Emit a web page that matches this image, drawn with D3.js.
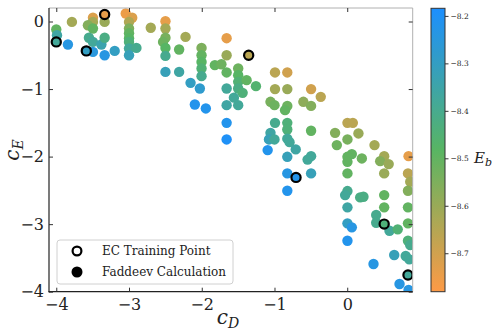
<!DOCTYPE html>
<html><head><meta charset="utf-8">
<script src="https://cdn.jsdelivr.net/npm/d3@7"></script>
<style>
body{margin:0;background:#fff}
</style>
</head><body>
<svg id="chart" width="492" height="334"></svg>
<script>
// Faddeev calculation points
const cD = [
 -4.00,-3.99,-3.84,-3.785,-3.496,-3.496,-3.565,-3.496,-3.335,-3.551,-3.496,-3.380,-3.335,-3.496,-3.335,-3.197,
 -3.045,-2.956,-3.000,-3.000,-3.000,-3.000,-3.000,-3.000,-3.000,-2.898,-2.701,
 -2.499,-2.499,-2.499,-2.532,-2.499,-2.499,-2.311,-2.223,-2.499,-2.311,-2.154,-2.026,-2.095,-1.944,
 -2.003,-2.003,-2.003,-2.003,-2.003,-1.820,-1.730,
 -1.658,-1.658,-1.658,-1.658,-1.658,-1.658,-1.658,
 -1.499,-1.499,-1.499,-1.499,-1.438,-1.558,-1.499,-1.383,-1.255,
 -0.993,-0.824,-0.993,-0.824,-1.055,-1.000,-0.824,-0.855,-0.993,-0.824,-0.824,-1.055,-1.076,-1.000,-1.094,-0.824,-0.793,-0.708,-0.824,-0.824,-0.824,
 -0.497,-0.364,-0.603,-0.497,-0.497,-0.497,-0.545,-0.497,
 0.003,0.077,0.154,-0.167,0.003,-0.143,0.063,0.003,0.201,0.003,0.003,0.003,-0.029,0.178,0.223,0.003,0.003,0.063,0.003,
 0.375,0.508,0.453,0.570,0.508,0.508,0.508,0.398,0.398,0.581,0.694,0.646,0.361,0.719,
 0.843,0.835,0.866,0.835,0.835,0.835,0.835,0.866,0.804,0.853,0.843
];
const cE = [
 -0.118,-0.203,-0.340,-0.006,0.056,-0.006,-0.055,-0.104,-0.006,-0.240,-0.302,-0.340,-0.240,-0.450,-0.499,-0.435,
 0.118,0.056,-0.006,-0.104,-0.173,-0.247,-0.302,-0.399,-0.499,-0.391,-0.092,
 0.004,-0.104,-0.240,-0.302,-0.391,-0.509,-0.414,-0.228,-0.746,-0.746,-0.908,-0.991,-1.228,-1.287,
 -0.391,-0.499,-0.598,-0.695,-0.809,-0.646,-0.632,
 -0.247,-0.499,-0.754,-0.991,-1.238,-1.500,-1.746,
 -0.695,-0.794,-0.893,-0.991,-1.056,-1.127,-1.238,-0.868,-0.957,
 -0.754,-0.754,-1.001,-1.001,-1.189,-1.238,-1.249,-1.312,-1.500,-1.500,-1.598,-1.648,-1.746,-1.746,-1.904,-1.734,-1.786,-1.893,-2.003,-2.249,-2.506,
 -1.001,-1.115,-1.189,-1.249,-1.618,-1.993,-2.044,-2.249,
 -1.500,-1.500,-1.657,-1.648,-1.746,-1.830,-1.963,-2.003,-2.027,-2.077,-2.249,-2.510,-2.570,-2.604,-2.595,-2.751,-2.988,-3.047,-3.246,
 -1.830,-1.993,-2.067,-2.111,-2.249,-2.570,-2.751,-2.865,-2.979,-3.098,-3.077,-3.457,-3.590,-3.886,
 -1.993,-2.249,-2.373,-2.506,-2.751,-2.988,-3.246,-3.309,-3.472,-3.521,-3.975
];
const Eb = [
 -8.50,-8.36,-8.24,-8.62,-8.72,-8.62,-8.56,-8.50,-8.60,-8.40,-8.38,-8.34,-8.42,-8.25,-8.24,-8.30,
 -8.75,-8.72,-8.64,-8.55,-8.50,-8.48,-8.44,-8.38,-8.32,-8.40,-8.62,
 -8.74,-8.62,-8.54,-8.52,-8.48,-8.40,-8.50,-8.62,-8.32,-8.36,-8.30,-8.28,-8.22,-8.22,
 -8.55,-8.50,-8.48,-8.45,-8.40,-8.50,-8.52,
 -8.74,-8.60,-8.50,-8.38,-8.36,-8.22,-8.20,
 -8.52,-8.48,-8.45,-8.42,-8.44,-8.38,-8.38,-8.50,-8.46,
 -8.66,-8.70,-8.62,-8.60,-8.54,-8.52,-8.52,-8.50,-8.40,-8.44,-8.44,-8.36,-8.32,-8.38,-8.22,-8.38,-8.38,-8.36,-8.32,-8.24,-8.22,
 -8.70,-8.66,-8.58,-8.56,-8.50,-8.38,-8.38,-8.32,
 -8.66,-8.66,-8.60,-8.56,-8.54,-8.52,-8.50,-8.50,-8.52,-8.50,-8.50,-8.40,-8.38,-8.42,-8.42,-8.36,-8.30,-8.24,-8.22,
 -8.62,-8.62,-8.56,-8.60,-8.60,-8.50,-8.50,-8.40,-8.40,-8.38,-8.45,-8.32,-8.24,-8.24,
 -8.74,-8.66,-8.62,-8.56,-8.50,-8.50,-8.44,-8.40,-8.38,-8.38,-8.24
];
// EC training points
const trainCD = [-4.00,-3.587,-3.335,-1.355,-0.704,0.508,0.835];
const trainCE = [-0.302,-0.435,0.104,-0.499,-2.308,-2.999,-3.753];
const trainEb = [-8.38,-8.30,-8.74,-8.66,-8.22,-8.44,-8.38];

const xTicks = [-4,-3,-2,-1,0];
const yTicks = [0,-1,-2,-3,-4];
const cbTicks = [-8.2,-8.3,-8.4,-8.5,-8.6,-8.7];
const legendLabels = ["EC Training Point","Faddeev Calculation"];

const FONT = '"DejaVu Serif",serif';
const svg = d3.select("#chart");
const L=49, R=412.7, T=8, B=291.7;
const x = d3.scaleLinear().domain([-4.1,0.9]).range([L,R]);
const y = d3.scaleLinear().domain([-4,0.2]).range([B,T]);
const cbDomain = [-8.781,-8.184];
const interp = d3.piecewise(d3.interpolateRgb, ["#fd9a46","#58b563","#1c8fff"]);
const color = d3.scaleSequential(interp).domain(cbDomain);

svg.append("defs").append("clipPath").attr("id","clip")
  .append("rect").attr("x",L).attr("y",T).attr("width",R-L).attr("height",B-T);

// points
const pts = cD.map((d,i)=>({x:d,y:cE[i],e:Eb[i]}));
const g = svg.append("g").attr("clip-path","url(#clip)");
g.selectAll("circle.f").data(pts).join("circle").attr("class","f")
  .attr("cx",d=>x(d.x)).attr("cy",d=>y(d.y)).attr("r",5.2)
  .attr("fill",d=>color(d.e));
const tpts = trainCD.map((d,i)=>({x:d,y:trainCE[i],e:trainEb[i]}));
g.selectAll("circle.t").data(tpts).join("circle").attr("class","t")
  .attr("cx",d=>x(d.x)).attr("cy",d=>y(d.y)).attr("r",4.6)
  .attr("fill",d=>color(d.e)).attr("stroke","#000").attr("stroke-width",2.2);

// frame
svg.append("line").attr("x1",L).attr("x2",R).attr("y1",T).attr("y2",T).attr("stroke","#b0b0b0").attr("stroke-width",1);
svg.append("line").attr("x1",R).attr("x2",R).attr("y1",T).attr("y2",B).attr("stroke","#b0b0b0").attr("stroke-width",1);
svg.append("line").attr("x1",L).attr("x2",L).attr("y1",T).attr("y2",B+0.5).attr("stroke","#222").attr("stroke-width",1.2);
svg.append("line").attr("x1",L-0.5).attr("x2",R).attr("y1",B).attr("y2",B).attr("stroke","#222").attr("stroke-width",1.2);

// axes
const fmt = d3.format("d");
const xa = svg.append("g").attr("transform",`translate(0,${B})`)
  .call(d3.axisBottom(x).tickValues(xTicks).tickFormat(fmt).tickSizeInner(-4).tickSizeOuter(0).tickPadding(5));
const xt = svg.append("g").attr("transform",`translate(0,${T})`)
  .call(d3.axisTop(x).tickValues(xTicks).tickFormat("").tickSizeInner(-4).tickSizeOuter(0));
const ya = svg.append("g").attr("transform",`translate(${L},0)`)
  .call(d3.axisLeft(y).tickValues(yTicks).tickFormat(fmt).tickSizeInner(-4).tickSizeOuter(0).tickPadding(5));
const yr = svg.append("g").attr("transform",`translate(${R},0)`)
  .call(d3.axisRight(y).tickValues(yTicks).tickFormat("").tickSizeInner(-4).tickSizeOuter(0));
[xa,xt,ya,yr].forEach(a=>{a.select(".domain").remove(); a.selectAll(".tick line").attr("stroke","#333"); a.attr("font-family",FONT);});
xa.selectAll("text").attr("font-size",16).attr("dy","0.85em");
ya.selectAll("text").attr("font-size",16);

// axis labels
const xl = svg.append("text").attr("x",228).attr("y",324).attr("text-anchor","middle").attr("font-size",20).attr("font-style","italic");
xl.append("tspan").text("c");
xl.append("tspan").attr("font-size",14).attr("dy",4).text("D");
const yl = svg.append("text").attr("transform","translate(19,150) rotate(-90)").attr("text-anchor","middle").attr("font-size",20).attr("font-style","italic");
yl.append("tspan").text("c");
yl.append("tspan").attr("font-size",14).attr("dy",4).text("E");

// legend
const lg = svg.append("g");
lg.append("rect").attr("x",57).attr("y",240).attr("width",176).attr("height",44).attr("rx",3)
  .attr("fill","#fff").attr("fill-opacity",0.8).attr("stroke","#d0d0d0");
lg.append("circle").attr("cx",77).attr("cy",251).attr("r",4.4).attr("fill","#fff").attr("stroke","#000").attr("stroke-width",2.2);
lg.append("circle").attr("cx",77).attr("cy",272).attr("r",5.5).attr("fill","#000");
legendLabels.forEach((t,i)=>{
  lg.append("text").attr("x",102).attr("y",255+i*21).attr("font-size",12).text(t);
});

// colorbar
const cbx=431, cbw=14;
const cy = d3.scaleLinear().domain(cbDomain).range([B,T+0.3]);
const grad = svg.select("defs").append("linearGradient").attr("id","cbg").attr("x1",0).attr("y1",1).attr("x2",0).attr("y2",0);
d3.range(0,1.0001,0.05).forEach(t=>{
  grad.append("stop").attr("offset",t).attr("stop-color",interp(t));
});
svg.append("rect").attr("x",cbx).attr("y",cy(cbDomain[1])).attr("width",cbw).attr("height",B-cy(cbDomain[1]))
  .attr("fill","url(#cbg)").attr("stroke","#333").attr("stroke-width",1);
const ca = svg.append("g").attr("transform",`translate(${cbx+cbw},0)`)
  .call(d3.axisRight(cy).tickValues(cbTicks).tickFormat(d3.format(".1f")).tickSize(3.5).tickPadding(2));
ca.select(".domain").remove();
ca.attr("font-family",FONT);
ca.selectAll(".tick line").attr("stroke","#333");
ca.selectAll("text").attr("font-size",7.5);
const el = svg.append("text").attr("x",474).attr("y",163).attr("font-size",15).attr("font-style","italic");
el.append("tspan").text("E");
el.append("tspan").attr("font-size",11).attr("dy",3).text("b");

svg.selectAll("text").attr("font-family",FONT).style("font-family",FONT).attr("fill","#222");
</script>
</body></html>
